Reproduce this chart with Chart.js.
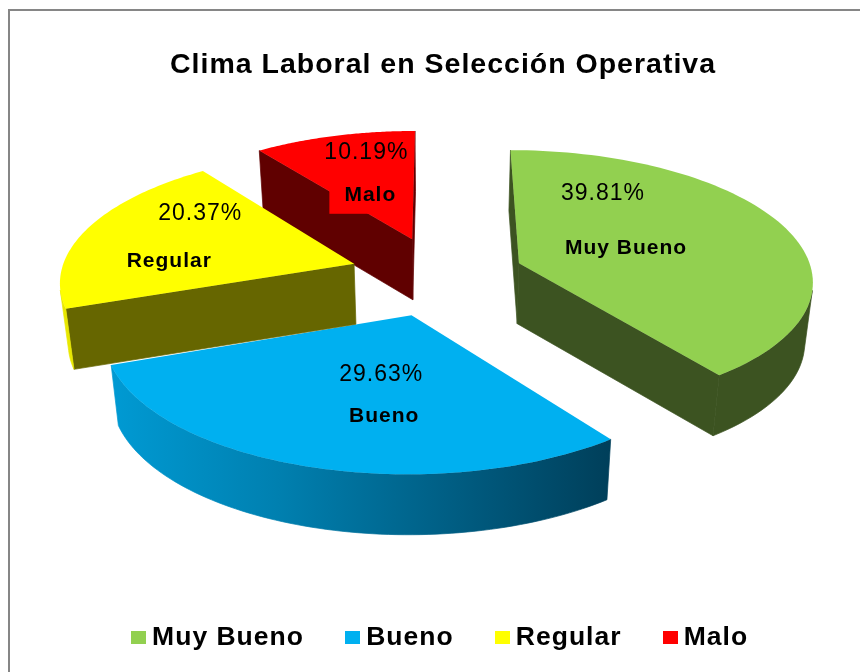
<!DOCTYPE html>
<html>
<head>
<meta charset="utf-8">
<title>Clima Laboral en Selección Operativa</title>
<script src="https://cdn.jsdelivr.net/npm/chart.js@4/dist/chart.umd.js"></script>
<style>
  html, body { margin: 0; padding: 0; background: #fff; }
  canvas { display: block; }
</style>
</head>
<body>
<canvas id="clima" width="860" height="672"></canvas>
<script>
const titulo = "Clima Laboral en Selección Operativa";
const categorias = ["Muy Bueno", "Bueno", "Regular", "Malo"];
const porcentajes = [39.81, 29.63, 20.37, 10.19];
const colores = ["#92d050", "#00b0f0", "#ffff00", "#ff0000"];
const coloresPared = ["#3c5321", "#00405c", "#666600", "#600000"];
const coloresCurva = [
  ["#3c5321"],
  ["#009ad3", "#0080b0", "#005f85", "#003f5a"],
  ["#e8e800"],
  ["#600000"],
];

// la muestra de la leyenda va como imagen para dejar el texto pegado al cuadro
function muestra(color) {
  const c = document.createElement("canvas");
  c.width = 15;
  c.height = 13;
  const g = c.getContext("2d");
  g.fillStyle = color;
  g.fillRect(0, 0, 15, 13);
  return c;
}

// pie en perspectiva: los angulos salen de los arcos que calcula Chart.js
const pie3d = {
  id: "pie3d",
  beforeUpdate(chart) {
    chart.ctx.letterSpacing = "1px"; // el original va estirado a lo ancho
  },
  beforeDraw(chart) {
    const ctx = chart.ctx;
    ctx.save();
    ctx.strokeStyle = "#868686";
    ctx.lineWidth = 2;
    ctx.strokeRect(9, 10, 900, 720);
    ctx.restore();
  },
  beforeDatasetsDraw(chart, args, o) {
    const ctx = chart.ctx;
    const arcs = chart.getDatasetMeta(0).data;

    const proyectar = (arc, u, v, z) => {
      const w = 1 - o.persp * v;
      const S = arc.outerRadius * o.spread;
      return {
        x: arc.x + o.shiftX + ((S * u) / w) * (1 - o.shrink * z),
        y: arc.y + o.lift + (S * o.tilt * v) / w + o.depth * z,
      };
    };

    const poligono = (lista, estilo) => {
      ctx.fillStyle = ctx.strokeStyle = estilo;
      ctx.lineWidth = 0.7;
      ctx.beginPath();
      lista.forEach((p, k) => (k ? ctx.lineTo(p.x, p.y) : ctx.moveTo(p.x, p.y)));
      ctx.closePath();
      ctx.fill();
      ctx.stroke();
    };

    o.order.forEach((i) => {
      const arc = arcs[i];
      const mid = (arc.startAngle + arc.endAngle) / 2;
      const ou = o.explode[i] * Math.cos(mid);
      const ov = o.explode[i] * Math.sin(mid);
      const pts = [[ou, ov]];
      for (let k = 0; k <= 80; k++) {
        const a = arc.startAngle + ((arc.endAngle - arc.startAngle) * k) / 80;
        pts.push([ou + Math.cos(a), ov + Math.sin(a)]);
      }
      const top = pts.map((p) => proyectar(arc, p[0], p[1], 0));
      const bot = pts.map((p) => proyectar(arc, p[0], p[1], 1));

      const xs = top.map((p) => p.x);
      const stops = coloresCurva[i];
      const grad = ctx.createLinearGradient(Math.min(...xs), 0, Math.max(...xs), 0);
      stops.forEach((c, k) => grad.addColorStop(stops.length > 1 ? k / (stops.length - 1) : 0, c));

      const arriba = [];
      const abajo = [];
      for (let k = 0; k < top.length; k++) {
        const n = (k + 1) % top.length;
        const area =
          (top[n].x - top[k].x) * (bot[n].y - top[n].y) -
          (top[n].y - top[k].y) * (bot[n].x - top[n].x);
        if (area >= 0) continue; // cara trasera
        if (k === 0 || n === 0) {
          poligono([top[k], top[n], bot[n], bot[k]], coloresPared[i]);
        } else {
          if (!arriba.length) {
            arriba.push(top[k]);
            abajo.push(bot[k]);
          }
          arriba.push(top[n]);
          abajo.push(bot[n]);
        }
      }
      if (arriba.length) poligono(arriba.concat(abajo.reverse()), grad);

      ctx.fillStyle = arc.options.backgroundColor;
      ctx.beginPath();
      top.forEach((p, k) => (k ? ctx.lineTo(p.x, p.y) : ctx.moveTo(p.x, p.y)));
      ctx.closePath();
      ctx.fill();
    });

    // etiquetas
    ctx.textAlign = "center";
    ctx.textBaseline = "middle";
    arcs.forEach((arc, i) => {
      const mid = (arc.startAngle + arc.endAngle) / 2;
      const r = o.explode[i] + 0.55;
      const p = proyectar(arc, r * Math.cos(mid), r * Math.sin(mid), 0);
      const x = p.x + o.nudge[i][0];
      const y = p.y + o.nudge[i][1];
      ctx.font = "bold 21px 'Liberation Sans'";
      const xn = x + o.nameShift[i][0];
      const yn = y + o.nameShift[i][1];
      if (i === 3) {
        ctx.fillStyle = arc.options.backgroundColor;
        ctx.fillRect(xn - 41, yn - 24, 70, 43);
      }
      ctx.fillStyle = "#000";
      ctx.fillText(categorias[i], xn, yn);
      ctx.font = "23px 'Liberation Sans'";
      ctx.fillText(porcentajes[i].toFixed(2) + "%", x, y);
    });
    return false;
  },
};

new Chart(document.getElementById("clima"), {
  type: "pie",
  data: {
    labels: categorias,
    datasets: [{ data: porcentajes, backgroundColor: colores, borderWidth: 0 }],
  },
  plugins: [pie3d],
  options: {
    responsive: false,
    animation: false,
    rotation: 0,
    layout: { padding: { left: 26, right: 0, top: 40, bottom: 11 } },
    plugins: {
      tooltip: { enabled: false },
      title: {
        display: true,
        text: titulo,
        color: "#000",
        font: { family: "'Liberation Sans'", size: 28.5, weight: "bold" },
        padding: { top: 8, bottom: 8 },
      },
      legend: {
        position: "bottom",
        onClick: null,
        labels: {
          color: "#000",
          font: { family: "'Liberation Sans'", size: 26.5, weight: "bold" },
          usePointStyle: true,
          boxWidth: 1,
          boxHeight: 13,
          padding: 48,
          generateLabels(chart) {
            return Chart.overrides.pie.plugins.legend.labels
              .generateLabels(chart)
              .map((it, i) => ({ ...it, pointStyle: muestra(colores[i]) }));
          },
        },
      },
      pie3d: {
        persp: 0.12,
        tilt: 0.44,
        spread: 1.208,
        lift: -58.5,
        shiftX: -4,
        depth: 60.5,
        shrink: 0.022,
        explode: [0.29, 0.315, 0.305, 0.3],
        order: [3, 0, 1, 2],
        nudge: [[-63, -48], [23, -19], [-5, -30], [-1, -27]],
        nameShift: [[23, 54], [3, 41], [-31, 47], [4, 42]],
      },
    },
  },
});
</script>
</body>
</html>
